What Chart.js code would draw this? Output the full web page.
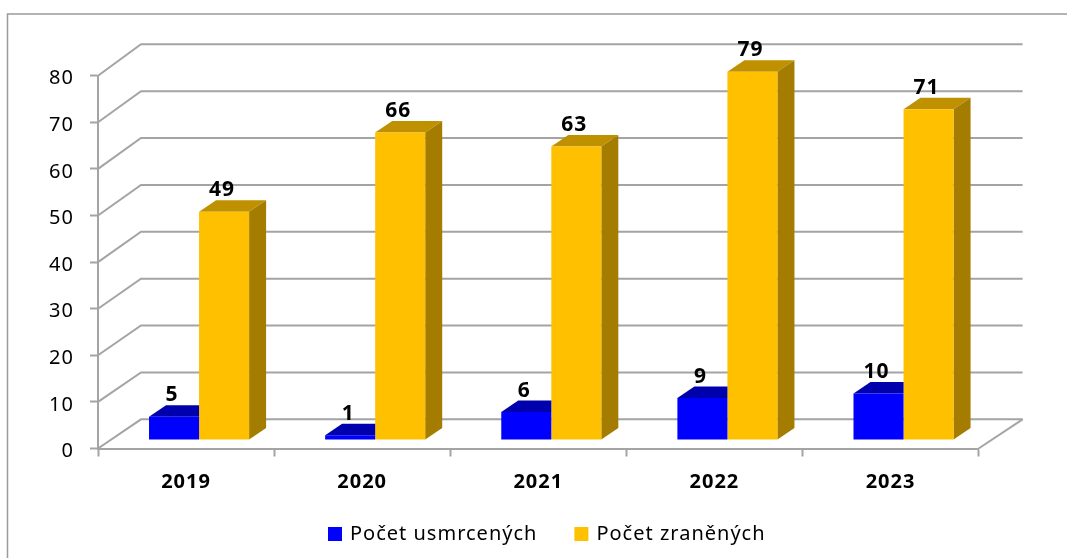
<!DOCTYPE html>
<html><head><meta charset="utf-8">
<style>html,body{margin:0;padding:0;background:#fff;overflow:hidden}canvas{display:block;filter:blur(0.5px)}</style>
<script src="https://cdn.jsdelivr.net/npm/chart.js@4"></script></head>
<body><canvas id="c" width="1067" height="558"></canvas>
<script>
const years = ['2019','2020','2021','2022','2023'];
const killed = [5,1,6,9,10];
const injured = [49,66,63,79,71];
const seriesNames = ['Počet usmrcených','Počet zraněných'];
const FONT = '"Noto Sans"';
const GRID = '#a4a4a4';
const BACK = {x:43,y:-29.2,stretch:1.006};  // depth of the walls
const BAR = {x:17,y:-11.5};                 // depth of the bars
const SHIFT = {x:13,y:-8.5};                // bars stand in mid-floor
const TOPS = ['#0000ad','#bf9000'];
const SIDE = '#a47c00';

const poly=(ctx,pts,fill)=>{ctx.beginPath();pts.forEach((p,i)=>i?ctx.lineTo(p[0],p[1]):ctx.moveTo(p[0],p[1]));ctx.closePath();ctx.fillStyle=fill;ctx.fill();};

const scene = {
  id:'scene',
  beforeUpdate(chart){chart.ctx.letterSpacing='1px';},
  afterLayout(chart){
    const l=chart.legend;
    const h=l.height;
    l.left=291;l.right=1067;
    l.top=485;l.bottom=l.top+h;
  },
  beforeDatasetsDraw(chart){
    const {ctx,chartArea:a,scales:{y}}=chart;
    ctx.save();
    ctx.strokeStyle='#9a9a9a';ctx.lineWidth=1.5;
    ctx.beginPath();ctx.moveTo(7.5,558);ctx.lineTo(7.5,14);ctx.lineTo(1067,14);ctx.stroke();
    ctx.strokeStyle=GRID;ctx.lineWidth=2;
    const by=y.getPixelForValue(0);
    const backOf=py=>by+BACK.y-(by-py)*BACK.stretch;
    y.ticks.forEach(t=>{
      const py=y.getPixelForValue(t.value);
      ctx.beginPath();ctx.moveTo(a.left,py);ctx.lineTo(a.left+BACK.x,backOf(py));ctx.lineTo(a.right+BACK.x+1,backOf(py));ctx.stroke();
    });
    ctx.beginPath();ctx.moveTo(a.right,by);ctx.lineTo(a.right+BACK.x+1,by+BACK.y);ctx.stroke();
    ctx.restore();
    ctx.save();ctx.translate(SHIFT.x,SHIFT.y);
  },
  beforeDatasetDraw(chart,args){
    const ctx=chart.ctx,i=args.index;
    args.meta.data.forEach(b=>{
      const L=b.x-b.width/2,R=b.x+b.width/2,T=b.y,B=b.base;
      const rightEdge=i===0?R:R+BAR.x;
      poly(ctx,[[L,T],[L+BAR.x,T+BAR.y],[rightEdge,T+BAR.y],[R,T]],TOPS[i]);
      if(i===1) poly(ctx,[[R,T],[R+BAR.x,T+BAR.y],[R+BAR.x,B+BAR.y],[R,B]],SIDE);
    });
  },
  afterDatasetsDraw(chart){
    const ctx=chart.ctx;
    ctx.restore();
    ctx.save();
    ctx.font='bold 21px '+FONT;ctx.fillStyle='#000';ctx.textAlign='center';ctx.textBaseline='middle';
    chart.data.datasets.forEach((ds,i)=>{
      chart.getDatasetMeta(i).data.forEach((b,k)=>{
        ctx.fillText(ds.data[k],b.x+SHIFT.x-2,b.y+SHIFT.y+BAR.y-10);
      });
    });
    ctx.restore();
  }
};

new Chart(document.getElementById('c'),{
  type:'bar',
  data:{labels:years,datasets:[
    {label:seriesNames[0],data:killed,backgroundColor:'#0000ff',clip:false},
    {label:seriesNames[1],data:injured,backgroundColor:'#ffc000',clip:false}
  ]},
  options:{
    responsive:false,animation:false,devicePixelRatio:1,
    layout:{padding:{top:75.7,right:88.4,left:0,bottom:0}},
    datasets:{bar:{categoryPercentage:100/176,barPercentage:1}},
    scales:{
      x:{
        grid:{drawOnChartArea:false,color:GRID,tickLength:8,tickWidth:2,tickColor:GRID},
        border:{color:GRID,width:2},
        ticks:{color:'#000',font:{family:FONT,size:20,weight:'bold'},padding:14,maxRotation:0},
        afterFit(s){const lh=s.chart.legend?s.chart.legend.height:0;s.height=Math.max(40,109.5-lh);}
      },
      y:{
        min:0,max:80,
        grid:{drawOnChartArea:false,color:GRID,tickLength:8,tickWidth:2,tickColor:GRID},
        border:{color:GRID,width:2},
        ticks:{stepSize:10,color:'#000',font:{family:FONT,size:20},padding:16,labelOffset:3},
        afterFit(s){s.width=98;}
      }
    },
    plugins:{
      tooltip:{enabled:false},
      legend:{position:'bottom',align:'start',labels:{
        color:'#000',font:{family:FONT,size:20},boxWidth:10,boxHeight:10,padding:39,
        generateLabels(chart){
          return Chart.defaults.plugins.legend.labels.generateLabels(chart).map(it=>({...it,strokeStyle:it.fillStyle,lineWidth:4}));
        }
      }}
    }
  },
  plugins:[scene]
});
</script></body></html>
